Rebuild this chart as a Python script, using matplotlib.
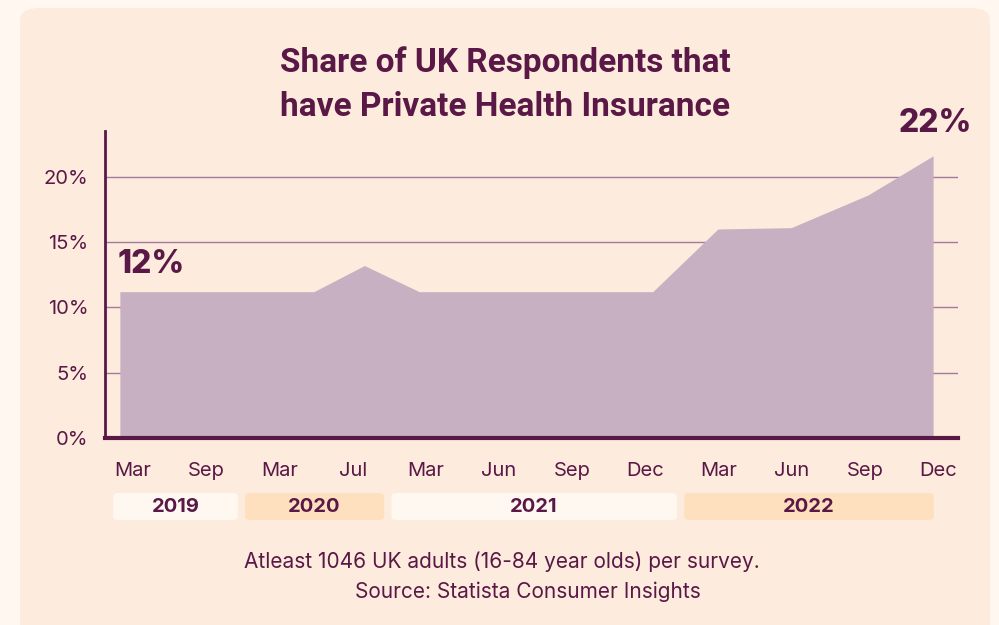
import matplotlib.pyplot as plt
import matplotlib.transforms as mtransforms
from matplotlib.patches import FancyBboxPatch

# Data
month_labels = ["Mar", "Sep", "Mar", "Jul", "Mar", "Jun", "Sep", "Dec", "Mar", "Jun", "Sep", "Dec"]
years = ["2019", "2020", "2021", "2022"]
months_per_year = [2, 2, 4, 4]
survey_pos = [-0.18, 2.47, 3.16, 3.91, 7.10, 7.99, 8.99, 10.04, 10.93]
share = [11.2, 11.2, 13.2, 11.2, 11.2, 16.0, 16.1, 18.6, 21.6]

dark = "#5a1846"
fill = "#c7b0c1"
card = "#fdebdd"
outer = "#fff7f0"
light_box = "#fff8f1"
peach_box = "#fee0bf"

W, H = 999, 625
fig = plt.figure(figsize=(9.99, 6.25), dpi=100)
fig.patch.set_facecolor(outer)

# rounded card behind everything
card_patch = FancyBboxPatch((20 / W, -0.1), 970 / W, 1.1 - 8 / H,
                            boxstyle="round,pad=0,rounding_size=0.02",
                            transform=fig.transFigure, facecolor=card,
                            edgecolor="none", zorder=-10)
fig.patches.append(card_patch)

ax = fig.add_axes([105 / W, (H - 438) / H, (958 - 105) / W, (438 - 131) / H])
ax.set_facecolor("none")

ax.fill_between(survey_pos, share, 0, color=fill, linewidth=0, zorder=2)

ax.set_xlim(-0.383, 11.27)
ax.set_ylim(0, 23.5)

ax.set_yticks([0, 5, 10, 15, 20])
ax.set_yticklabels([f"{v}%" for v in [0, 5, 10, 15, 20]])
for v in [5, 10, 15, 20]:
    ax.axhline(v, color="#a47a9d", linewidth=1, zorder=1)

ax.set_xticks(range(len(month_labels)))
ax.set_xticklabels(month_labels)
ax.tick_params(axis="both", length=0, labelsize=14.5, labelcolor=dark)
ax.tick_params(axis="x", pad=17)
ax.tick_params(axis="y", pad=12)
for lbl in ax.get_xticklabels() + ax.get_yticklabels():
    lbl.set_fontfamily("Inter")

for s in ["top", "right"]:
    ax.spines[s].set_visible(False)
ax.spines["left"].set_color(dark)
ax.spines["left"].set_linewidth(2)
ax.spines["bottom"].set_color(dark)
ax.spines["bottom"].set_linewidth(3)

# value annotations
ax.text(survey_pos[0] + 0.43, share[0] + 2.1, "12%", fontsize=23, fontweight="heavy",
        fontfamily="Inter", color=dark, ha="center", va="center", clip_on=False)
ax.text(survey_pos[-1] + 0.03, share[-1] + 2.5, "22%", fontsize=23, fontweight="heavy",
        fontfamily="Inter", color=dark, ha="center", va="center", clip_on=False)

# year boxes below month labels
trans = mtransforms.blended_transform_factory(ax.transData, fig.transFigure)
start = 0
for i, (yr, n) in enumerate(zip(years, months_per_year)):
    x0 = start - 0.47
    x1 = start + n - 1 + 0.43
    if i == 0:
        x0 = survey_pos[0] - 0.09
    if i == len(years) - 1:
        x1 = survey_pos[-1] + 0.01
    color = light_box if i % 2 == 0 else peach_box
    box = FancyBboxPatch((x0, (H - 520) / H), x1 - x0, 27 / H,
                         boxstyle="round,pad=0,rounding_size=0.08",
                         mutation_aspect=0.06,
                         transform=trans, facecolor=color, edgecolor="none",
                         clip_on=False, zorder=1)
    ax.add_patch(box)
    ax.text((x0 + x1) / 2, (H - 506.5) / H, yr, transform=trans, ha="center", va="center",
            fontsize=14.5, fontweight="bold", fontfamily="Inter", color=dark)
    start += n

# title
fig.text(505 / W, 1 - 63 / H, "Share of UK Respondents that", ha="center", va="center",
         fontsize=24, fontweight="bold", fontfamily="Roboto", color=dark)
fig.text(505 / W, 1 - 107 / H, "have Private Health Insurance", ha="center", va="center",
         fontsize=24, fontweight="bold", fontfamily="Roboto", color=dark)

# caption
fig.text(502 / W, 1 - 562 / H, "Atleast 1046 UK adults (16-84 year olds) per survey.",
         ha="center", va="center", fontsize=15, fontfamily="Inter", color=dark)
fig.text(528 / W, 1 - 592 / H, "Source: Statista Consumer Insights",
         ha="center", va="center", fontsize=15, fontfamily="Inter", color=dark)

fig.savefig("out.png", dpi=100, facecolor=fig.get_facecolor())
